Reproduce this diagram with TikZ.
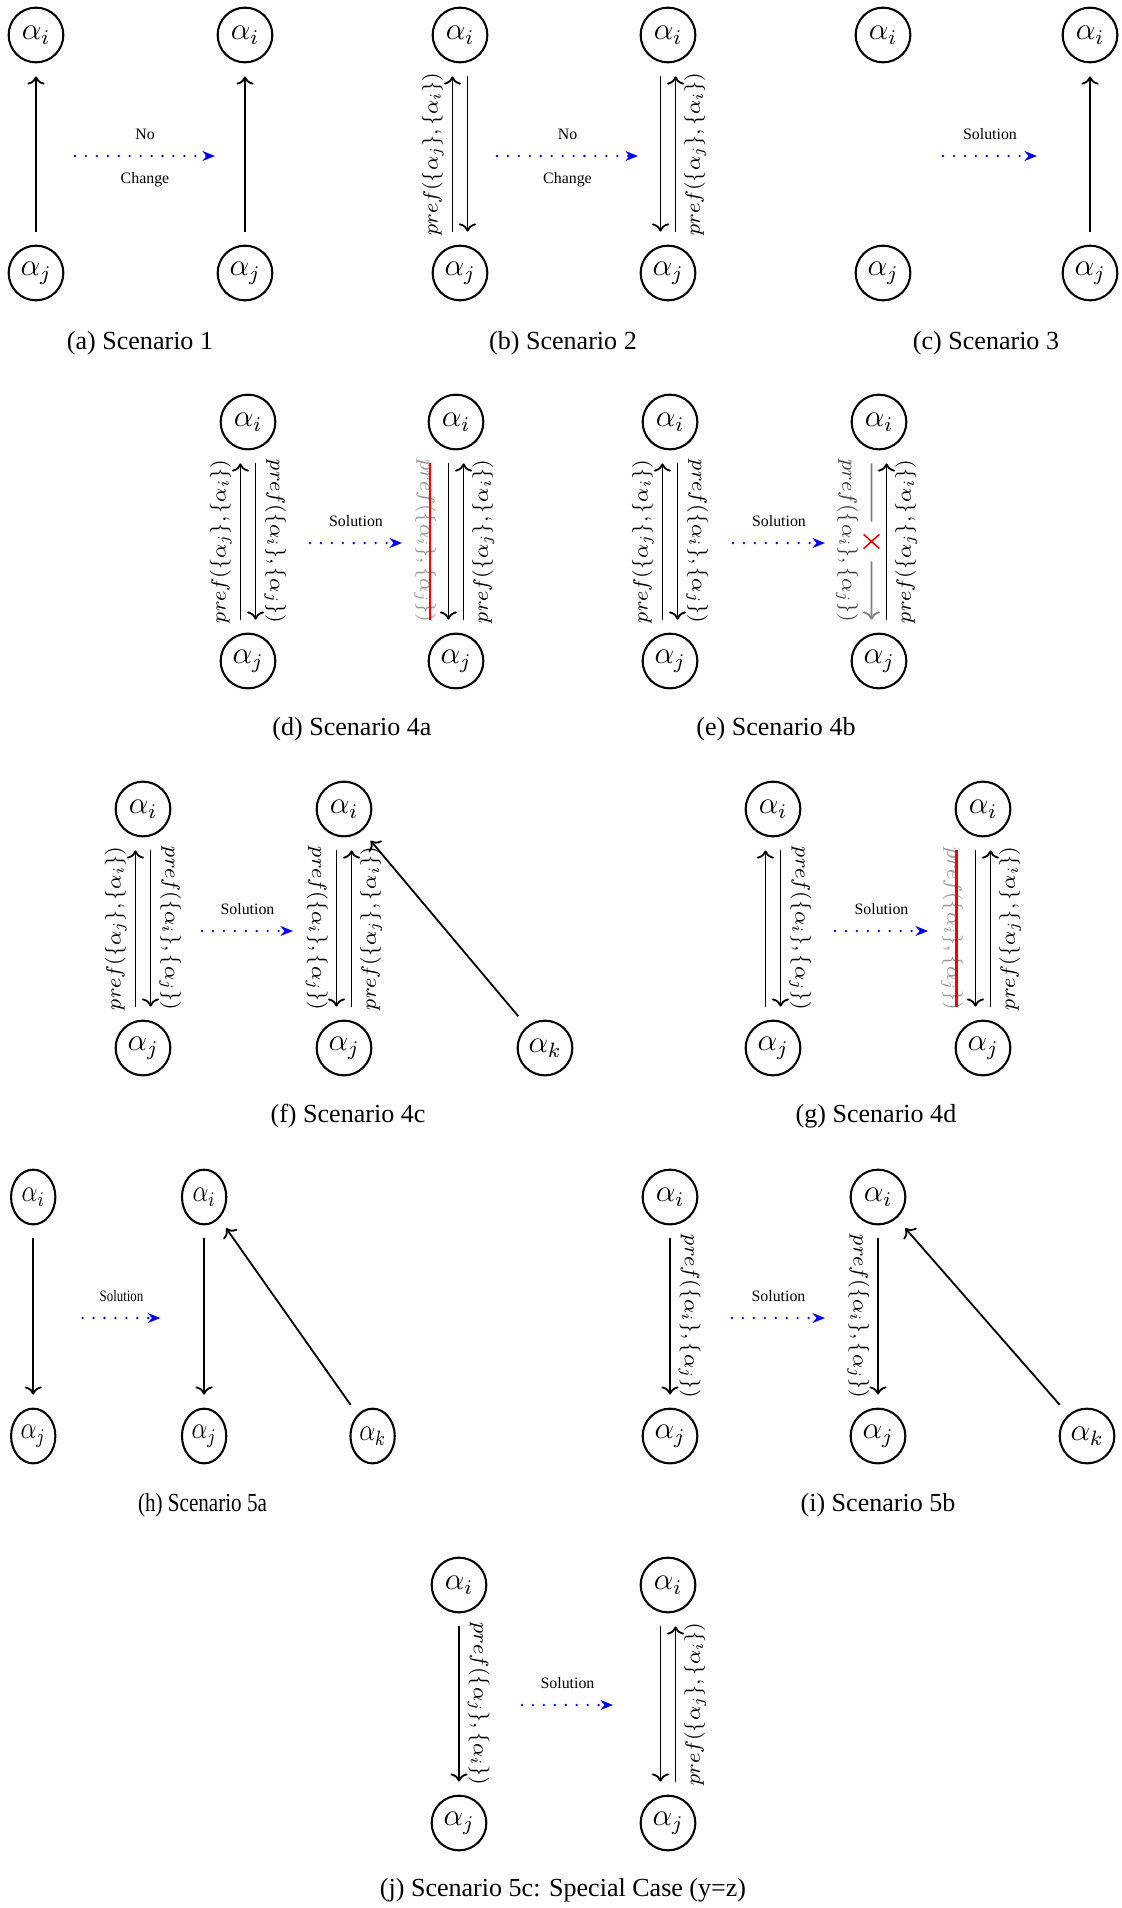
\documentclass[tikz,border=0pt]{standalone}
\usepackage{fontspec}
\setmainfont{Liberation Serif}
\usetikzlibrary{arrows.meta,shapes.misc}
\colorlet{struck}{black!40}
\colorlet{gone}{black!50}
\begin{document}
\begin{tikzpicture}[x=0.384pt,y=-0.384pt,
  st/.style={circle,draw,line width=0.8pt,minimum size=21pt,inner sep=0pt,outer sep=5.4pt,font=\fontsize{12}{14}\selectfont},
  pref/.style={sloped,inner sep=3pt,font=\fontsize{8.2}{9}\selectfont},
  flow/.style={blue,line width=1pt,dash pattern=on 0pt off 4.2pt,line cap=round,-{Stealth[length=4.8pt,width=3.8pt]}},
  note/.style={text=black,font=\fontsize{6.1}{7}\selectfont},
  subcap/.style={font=\fontsize{10}{12}\selectfont},
  strike/.style={red,line width=0.9pt},
  gap/.style={minimum width=6pt,minimum height=14.5pt,inner sep=0pt},
  cut/.style={cross out,draw=red,semithick,minimum width=6pt,minimum height=5.4pt,inner sep=0pt,outer sep=0pt},
  line width=0.7pt]
  \useasboundingbox (0,0) rectangle (1122,1908);

  % (a)
  \node[st] (ai1) at (36,35) {$\alpha_i$};
  \node[st] (aj1) at (36,273) {$\alpha_j$};
  \node[st] (ai2) at (245,35) {$\alpha_i$};
  \node[st] (aj2) at (245,273) {$\alpha_j$};
  \draw[->] (aj1) edge (ai1) (aj2) edge (ai2);
  \coordinate (as) at (75,156);
  \coordinate (ae) at (215,156);
  \draw[flow] (as) -- node[note,above=2.3pt] {No} node[note,below=2.6pt] {Change} (ae);
  \node[subcap] (capa) at (140,343) {(a) Scenario 1};

  % (b)
  \node[st] (bi1) at (460,35) {$\alpha_i$};
  \node[st] (bj1) at (460,273) {$\alpha_j$};
  \node[st] (bi2) at (668,35) {$\alpha_i$};
  \node[st] (bj2) at (668,273) {$\alpha_j$};
  \draw[->] ([xshift=-2.9pt]bj1.north) -- node[pref,above] {$pref(\{\alpha_j\},\{\alpha_i\})$} ([xshift=-2.9pt]bi1.south);
  \draw[->] ([xshift=2.9pt]bi1.south) -- ([xshift=2.9pt]bj1.north);
  \draw[->] ([xshift=-2.9pt]bi2.south) -- ([xshift=-2.9pt]bj2.north);
  \draw[->] ([xshift=2.9pt]bj2.north) -- node[pref,below] {$pref(\{\alpha_j\},\{\alpha_i\})$} ([xshift=2.9pt]bi2.south);
  \coordinate (bs) at (497,156);
  \coordinate (be) at (638,156);
  \draw[flow] (bs) -- node[note,above=2.3pt] {No} node[note,below=2.6pt] {Change} (be);
  \node[subcap] (capb) at (563,343) {(b) Scenario 2};

  % (c)
  \node[st] (ci1) at (883,35) {$\alpha_i$};
  \node[st] (cj1) at (883,273) {$\alpha_j$};
  \node[st] (ci2) at (1090,35) {$\alpha_i$};
  \node[st] (cj2) at (1090,273) {$\alpha_j$};
  \draw[->] (cj2) edge (ci2);
  \coordinate (cs) at (943,156);
  \coordinate (ce) at (1037,156);
  \draw[flow] (cs) -- node[note,above=2.3pt] {Solution} (ce);
  \node[subcap] (capc) at (986,343) {(c) Scenario 3};

  % (d)
  \node[st] (di1) at (248,422) {$\alpha_i$};
  \node[st] (dj1) at (248,661) {$\alpha_j$};
  \node[st] (di2) at (456,422) {$\alpha_i$};
  \node[st] (dj2) at (456,661) {$\alpha_j$};
  \draw[->] ([xshift=-2.9pt]dj1.north) -- node[pref,above] {$pref(\{\alpha_j\},\{\alpha_i\})$} ([xshift=-2.9pt]di1.south);
  \draw[->] ([xshift=2.9pt]di1.south) -- node[pref,above] {$pref(\{\alpha_i\},\{\alpha_j\})$} ([xshift=2.9pt]dj1.north);
  \node[pref,rotate=-90,text=struck] (dl) at (425,541) {$pref(\{\alpha_i\},\{\alpha_j\})$};
  \draw[strike] ([xshift=-10pt]di2.south) -- ([xshift=-10pt]dj2.north);
  \draw[->] ([xshift=-2.9pt]di2.south) -- ([xshift=-2.9pt]dj2.north);
  \draw[->] ([xshift=2.9pt]dj2.north) -- node[pref,below] {$pref(\{\alpha_j\},\{\alpha_i\})$} ([xshift=2.9pt]di2.south);
  \coordinate (ds) at (310,543);
  \coordinate (de) at (402,543);
  \draw[flow] (ds) -- node[note,above=2.3pt] {Solution} (de);
  \node[subcap] (capd) at (352,729) {(d) Scenario 4a};

  % (e)
  \node[st] (ei1) at (670,422) {$\alpha_i$};
  \node[st] (ej1) at (670,661) {$\alpha_j$};
  \node[st] (ei2) at (879,422) {$\alpha_i$};
  \node[st] (ej2) at (879,661) {$\alpha_j$};
  \draw[->] ([xshift=-2.9pt]ej1.north) -- node[pref,above] {$pref(\{\alpha_j\},\{\alpha_i\})$} ([xshift=-2.9pt]ei1.south);
  \draw[->] ([xshift=2.9pt]ei1.south) -- node[pref,above] {$pref(\{\alpha_i\},\{\alpha_j\})$} ([xshift=2.9pt]ej1.north);
  \node[gap] (ex) at (871.5,541.5) {};
  \node[cut] (excut) at (ex) {};
  \node[pref,rotate=-90,text=black!75] (el) at (847,541) {$pref(\{\alpha_i\},\{\alpha_j\})$};
  \draw[gone] ([xshift=-2.9pt]ei2.south) -- (ex);
  \draw[gone,->] (ex) -- ([xshift=-2.9pt]ej2.north);
  \draw[->] ([xshift=2.9pt]ej2.north) -- node[pref,below] {$pref(\{\alpha_j\},\{\alpha_i\})$} ([xshift=2.9pt]ei2.south);
  \coordinate (es) at (733,543);
  \coordinate (ee) at (825,543);
  \draw[flow] (es) -- node[note,above=2.3pt] {Solution} (ee);
  \node[subcap] (cape) at (776,729) {(e) Scenario 4b};

  % (f)
  \node[st] (fi1) at (143,809) {$\alpha_i$};
  \node[st] (fj1) at (143,1048) {$\alpha_j$};
  \node[st] (fi2) at (344,809) {$\alpha_i$};
  \node[st] (fj2) at (344,1048) {$\alpha_j$};
  \node[st] (fk) at (545,1048) {$\alpha_k$};
  \draw[->] ([xshift=-2.9pt]fj1.north) -- node[pref,above] {$pref(\{\alpha_j\},\{\alpha_i\})$} ([xshift=-2.9pt]fi1.south);
  \draw[->] ([xshift=2.9pt]fi1.south) -- node[pref,above] {$pref(\{\alpha_i\},\{\alpha_j\})$} ([xshift=2.9pt]fj1.north);
  \draw[->] ([xshift=-2.9pt]fi2.south) -- node[pref,below] {$pref(\{\alpha_i\},\{\alpha_j\})$} ([xshift=-2.9pt]fj2.north);
  \draw[->] ([xshift=2.9pt]fj2.north) -- node[pref,below] {$pref(\{\alpha_j\},\{\alpha_i\})$} ([xshift=2.9pt]fi2.south);
  \draw[->] (fk) edge (fi2);
  \coordinate (fs) at (202,931);
  \coordinate (fe) at (293,931);
  \draw[flow] (fs) -- node[note,above=2.3pt] {Solution} (fe);
  \node[subcap] (capf) at (348,1116) {(f) Scenario 4c};

  % (g)
  \node[st] (gi1) at (773,809) {$\alpha_i$};
  \node[st] (gj1) at (773,1048) {$\alpha_j$};
  \node[st] (gi2) at (983,809) {$\alpha_i$};
  \node[st] (gj2) at (983,1048) {$\alpha_j$};
  \draw[->] ([xshift=-2.9pt]gj1.north) -- ([xshift=-2.9pt]gi1.south);
  \draw[->] ([xshift=2.9pt]gi1.south) -- node[pref,above] {$pref(\{\alpha_i\},\{\alpha_j\})$} ([xshift=2.9pt]gj1.north);
  \node[pref,rotate=-90,text=struck] (gl) at (952,929) {$pref(\{\alpha_i\},\{\alpha_j\})$};
  \draw[strike] ([xshift=-10.2pt]gi2.south) -- ([xshift=-10.2pt]gj2.north);
  \draw[->] ([xshift=-2.9pt]gi2.south) -- ([xshift=-2.9pt]gj2.north);
  \draw[->] ([xshift=2.9pt]gj2.north) -- node[pref,below] {$pref(\{\alpha_j\},\{\alpha_i\})$} ([xshift=2.9pt]gi2.south);
  \coordinate (gs) at (835,931);
  \coordinate (ge) at (928,931);
  \draw[flow] (gs) -- node[note,above=2.3pt] {Solution} (ge);
  \node[subcap] (capg) at (876,1116) {(g) Scenario 4d};

  % (h), squeezed
  \begin{scope}[xscale=0.81,transform shape]
    \node[st] (hi1) at (41,1197) {$\alpha_i$};
    \node[st] (hj1) at (41,1436) {$\alpha_j$};
    \node[st] (hi2) at (252,1197) {$\alpha_i$};
    \node[st] (hj2) at (252,1436) {$\alpha_j$};
    \node[st] (hk) at (460,1436) {$\alpha_k$};
    \draw[->] (hi1) edge (hj1) (hi2) edge (hj2) (hk) edge (hi2);
    \coordinate (hs) at (102,1318);
    \coordinate (he) at (198,1318);
    \draw[flow] (hs) -- node[note,above=2.3pt] {Solution} (he);
    \node[subcap] (caph) at (250,1505) {(h) Scenario 5a};
  \end{scope}

  % (i)
  \node[st] (ii1) at (670,1197) {$\alpha_i$};
  \node[st] (ij1) at (670,1436) {$\alpha_j$};
  \node[st] (ii2) at (878,1197) {$\alpha_i$};
  \node[st] (ij2) at (878,1436) {$\alpha_j$};
  \node[st] (ik) at (1087,1436) {$\alpha_k$};
  \draw[->] (ii1) -- node[pref,above] {$pref(\{\alpha_i\},\{\alpha_j\})$} (ij1);
  \draw[->] (ii2) -- node[pref,below] {$pref(\{\alpha_i\},\{\alpha_j\})$} (ij2);
  \draw[->] (ik) edge (ii2);
  \coordinate (is) at (732,1318);
  \coordinate (ie) at (825,1318);
  \draw[flow] (is) -- node[note,above=2.3pt] {Solution} (ie);
  \node[subcap] (capi) at (878,1505) {(i) Scenario 5b};

  % (j)
  \node[st] (ji1) at (459,1585) {$\alpha_i$};
  \node[st] (jj1) at (459,1823) {$\alpha_j$};
  \node[st] (ji2) at (668,1585) {$\alpha_i$};
  \node[st] (jj2) at (668,1823) {$\alpha_j$};
  \draw[->] (ji1) -- node[pref,above] {$pref(\{\alpha_j\},\{\alpha_i\})$} (jj1);
  \draw[->] ([xshift=-2.9pt]ji2.south) -- ([xshift=-2.9pt]jj2.north);
  \draw[->] ([xshift=2.9pt]jj2.north) -- node[pref,below] {$pref(\{\alpha_j\},\{\alpha_i\})$} ([xshift=2.9pt]ji2.south);
  \coordinate (js) at (522,1705);
  \coordinate (je) at (613,1705);
  \draw[flow] (js) -- node[note,above=2.3pt] {Solution} (je);
  \node[subcap] (capj) at (563,1890) {(j) Scenario 5c: Special Case (y=z)};
\end{tikzpicture}
\end{document}
